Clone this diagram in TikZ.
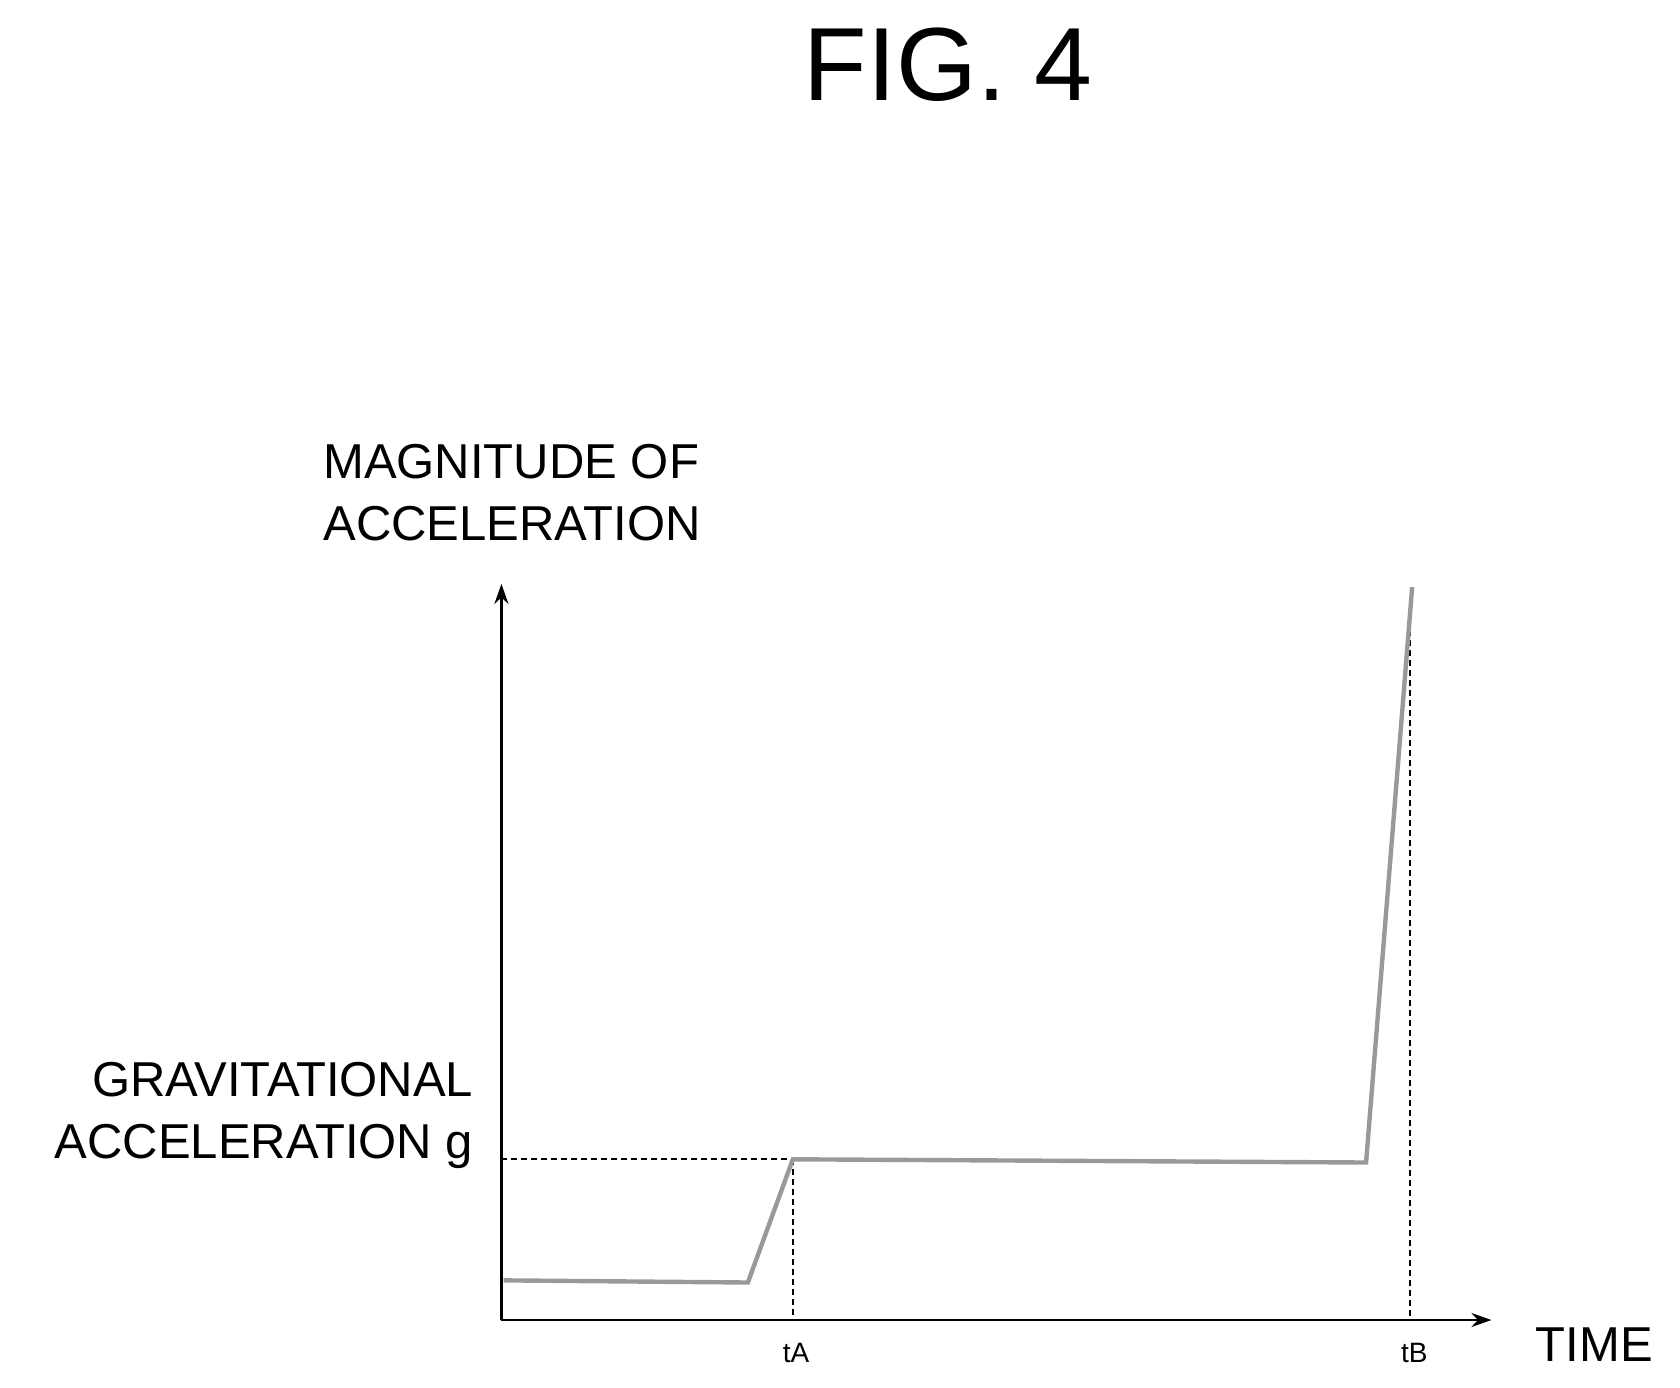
\documentclass[tikz,border=0pt]{standalone}
\usepackage{fontspec}
\setmainfont{Liberation Sans}
\usetikzlibrary{arrows.meta}
\begin{document}
\begin{tikzpicture}[x=0.5357pt,y=-0.5357pt,
  lab/.style={font=\fontsize{24.5}{27}\selectfont,inner sep=0pt},
  small/.style={font=\fontsize{14}{16}\selectfont,inner sep=0pt},
  axis/.style={line width=1.3pt,-{Stealth[length=10pt,width=7pt]}},
  guide/.style={line width=1pt,dashed,dash pattern=on 3pt off 2pt},
  curve/.style={line width=2.2pt,gray!80}]
\useasboundingbox (0,0) rectangle (1568,1295);
\node[font=\fontsize{52}{56}\selectfont,inner sep=0pt] (fig) at (885,60) {FIG. 4};
\coordinate (O) at (468,1232);
\coordinate (ytip) at (468,545);
\coordinate (xtip) at (1392,1232);
\draw[axis] (O) -- (ytip);
\draw[axis] (O) -- (xtip);
\node[lab,align=left] (ylab) at (478,460) {MAGNITUDE OF\\[4pt]ACCELERATION};
\node[lab,align=right,anchor=east] (glab) at (442,1041) {GRAVITATIONAL\\[4pt]ACCELERATION g};
\node[lab] (time) at (1488,1255) {TIME};
\coordinate (g0) at (468,1082);
\coordinate (a1) at (740,1082);
\coordinate (a0) at (740,1232);
\coordinate (b1) at (1316,560);
\coordinate (b0) at (1316,1232);
\draw[guide] (g0) -- (a1);
\draw[guide] (a1) -- (a0);
\draw[guide] (b1) -- (b0);
\node[small] (tA) at (743,1263) {tA};
\node[small] (tB) at (1320,1263) {tB};
\draw[curve] (470,1195) -- (698,1197) -- (740,1082) -- (1275,1085) -- (1318,548);
\end{tikzpicture}
\end{document}
